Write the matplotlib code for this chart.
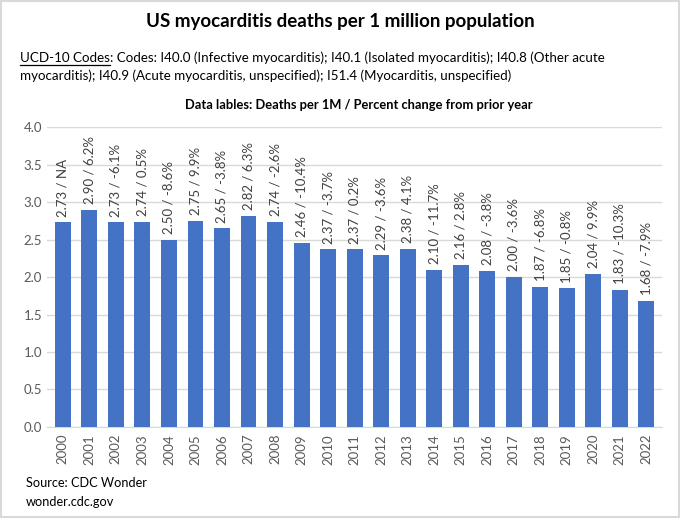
import matplotlib
matplotlib.use("Agg")
import matplotlib.pyplot as plt
from matplotlib.lines import Line2D
from matplotlib.patches import Rectangle

years = [str(y) for y in range(2000, 2023)]
deaths = [2.73, 2.90, 2.73, 2.74, 2.50, 2.75, 2.65, 2.82, 2.74, 2.46, 2.37, 2.37,
          2.29, 2.38, 2.10, 2.16, 2.08, 2.00, 1.87, 1.85, 2.04, 1.83, 1.68]
pct = ["NA", "6.2%", "-6.1%", "0.5%", "-8.6%", "9.9%", "-3.8%", "6.3%", "-2.6%",
       "-10.4%", "-3.7%", "0.2%", "-3.6%", "4.1%", "-11.7%", "2.8%", "-3.8%",
       "-3.6%", "-6.8%", "-0.8%", "9.9%", "-10.3%", "-7.9%"]
yticks = [0.0, 0.5, 1.0, 1.5, 2.0, 2.5, 3.0, 3.5, 4.0]

plt.rcParams['font.family'] = ['Lato', 'DejaVu Sans']

fig = plt.figure(figsize=(6.8, 5.18), dpi=100)
fig.patch.set_facecolor('white')
fig.add_artist(Rectangle((0.002, 0.002), 0.996, 0.996, transform=fig.transFigure,
                         fill=False, edgecolor='#D9D9D9', linewidth=1.5))

ax = fig.add_axes([0.069, 0.1757, 0.905, 0.579])
x = list(range(len(years)))
ax.bar(x, deaths, width=0.6, color='#4472C4', zorder=3)
ax.set_ylim(0, 4.0)
ax.set_xlim(-0.6, len(years) - 0.4)
ax.set_yticks(yticks)
ax.set_yticklabels([f"{v:.1f}" for v in yticks])
ax.set_xticks(x)
ax.set_xticklabels(years, rotation=90)
ax.tick_params(axis='both', length=0, colors='#595959', labelsize=9.5)
ax.tick_params(axis='x', pad=5)
ax.grid(axis='y', color='#D9D9D9', linewidth=1, zorder=0)
for s in ['top', 'right', 'left']:
    ax.spines[s].set_visible(False)
ax.spines['bottom'].set_color('#D9D9D9')

for xi, d, p in zip(x, deaths, pct):
    ax.annotate(f"{d:.2f} / {p}", (xi, d), xytext=(0, 4), textcoords='offset points',
                rotation=90, ha='center', va='bottom', fontsize=9.5, color='#404040')

fig.text(0.5, 0.958, "US myocarditis deaths per 1 million population", ha='center',
         va='center', fontsize=13.5, fontweight='bold', color='black')

sub_fs = 9.6
t1 = fig.text(0.029, 0.888, "UCD-10 Codes", ha='left', va='center', fontsize=sub_fs, color='black')
fig.canvas.draw()
r = fig.canvas.get_renderer()
bb = t1.get_window_extent(r)
W, H = fig.bbox.width, fig.bbox.height
fig.text(bb.x1 / W, 0.888, ": Codes: I40.0 (Infective myocarditis); I40.1 (Isolated myocarditis); I40.8 (Other acute",
         ha='left', va='center', fontsize=sub_fs, color='black')
fig.add_artist(Line2D([bb.x0 / W, bb.x1 / W], [(bb.y0 - 1) / H, (bb.y0 - 1) / H],
                      transform=fig.transFigure, color='black', linewidth=0.9))
fig.text(0.029, 0.853, "myocarditis); I40.9 (Acute myocarditis, unspecified); I51.4 (Myocarditis, unspecified)",
         ha='left', va='center', fontsize=sub_fs, color='black')

fig.text(0.527, 0.797, "Data lables: Deaths per 1M / Percent change from prior year", ha='center',
         va='center', fontsize=9.3, fontweight='bold', color='black')

fig.text(0.038, 0.068, "Source: CDC Wonder", ha='left', va='center', fontsize=9.2, color='black')
fig.text(0.038, 0.031, "wonder.cdc.gov", ha='left', va='center', fontsize=9.2, color='black')

fig.savefig("out.png", dpi=100, facecolor='white')
